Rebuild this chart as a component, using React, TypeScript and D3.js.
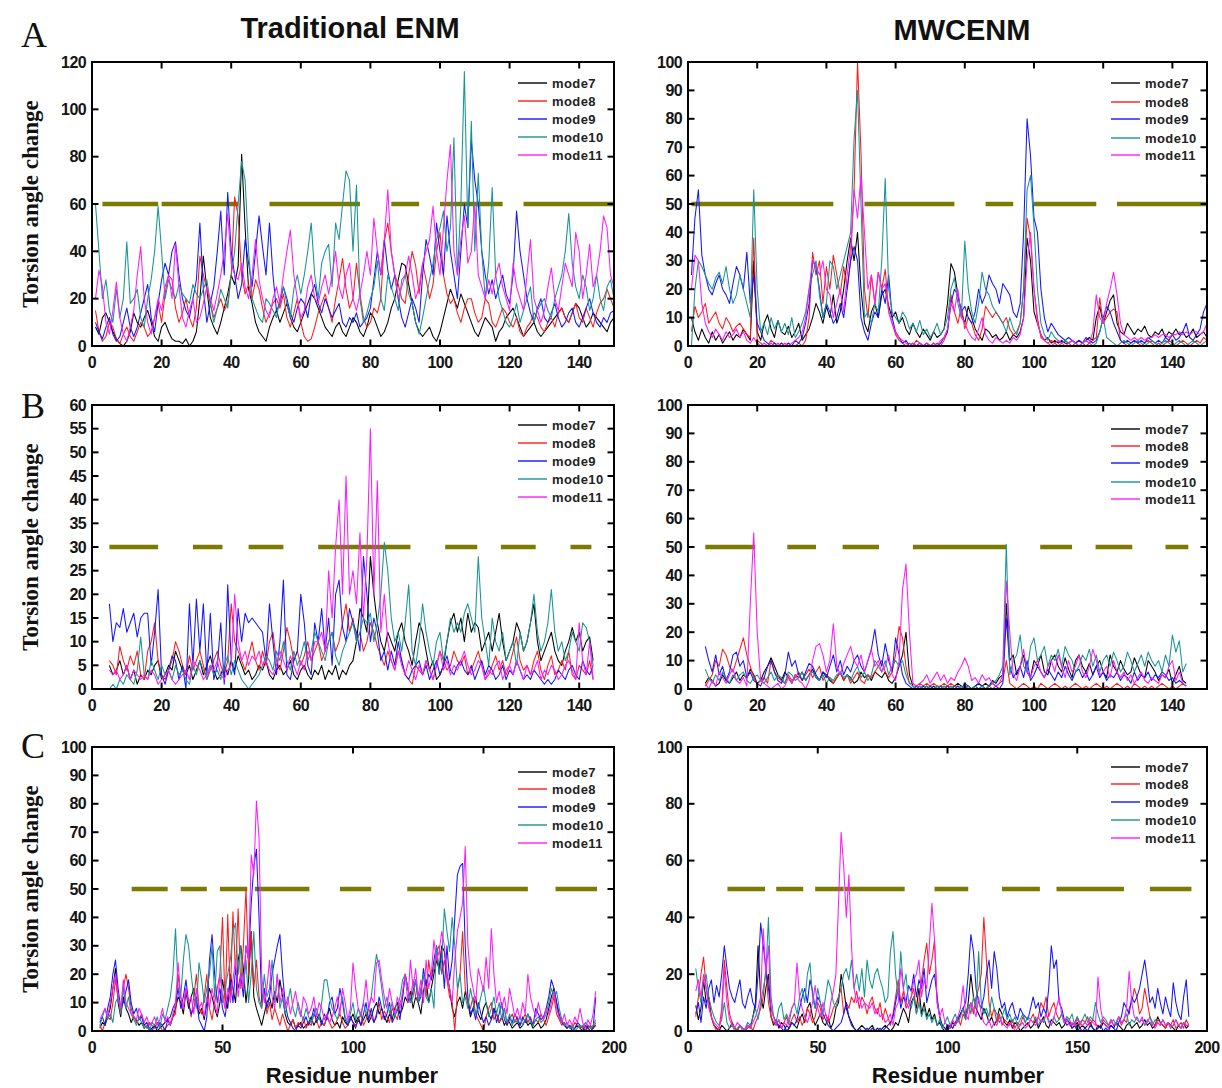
import React from "react";
import * as d3 from "d3";

const MODES = ["mode7", "mode8", "mode9", "mode10", "mode11"];
const COLORS = ["#000000", "#ff1a1a", "#1414ff", "#179494", "#ff1aff"];

const X_TICKS_150 = [0, 20, 40, 60, 80, 100, 120, 140];
const X_TICKS_200 = [0, 50, 100, 150, 200];
const Y_TICKS_A_L = [0, 20, 40, 60, 80, 100, 120];
const Y_TICKS_10 = [0, 10, 20, 30, 40, 50, 60, 70, 80, 90, 100];
const Y_TICKS_B_L = [0, 5, 10, 15, 20, 25, 30, 35, 40, 45, 50, 55, 60];
const Y_TICKS_20 = [0, 20, 40, 60, 80, 100];

// ---------- Panel A, Traditional ENM (residues 1..150) ----------
const A_L_START = 1;
const A_L_M7 = [8,5,12,14,10,6,3,1,0,2, 6,14,10,8,12,15,10,4,2,8, 10,6,3,2,2,1,3,0,2,6, 20,38,24,12,8,5,10,16,22,30, 26,34,81,50,24,18,10,6,4,2, 8,12,15,10,14,18,12,8,6,10, 14,18,22,20,16,12,8,6,4,8, 10,6,4,8,12,10,6,4,8,14, 12,8,4,6,10,16,20,28,35,34, 26,18,10,6,4,6,8,4,2,6, 12,18,24,20,16,22,18,14,10,6, 4,8,12,10,8,2,6,8,12,14, 16,12,8,4,6,8,10,6,4,6, 8,10,12,14,16,12,10,14,18,16, 12,8,10,14,12,10,8,6,10,12];
const A_L_M8 = [15,6,2,4,10,8,3,1,5,8, 4,2,6,10,8,4,6,12,18,10, 22,30,28,16,10,14,20,12,8,16, 38,30,24,18,12,16,20,15,18,30, 63,55,30,22,26,20,28,24,16,10, 14,18,20,16,22,12,8,14,20,10, 4,2,3,8,14,18,22,16,10,20, 28,37,24,16,20,35,22,12,8,10, 16,14,20,44,52,40,30,26,20,18, 30,40,34,22,35,28,20,26,40,48, 30,22,18,20,14,10,16,20,20,14, 10,12,20,18,10,8,12,16,14,10, 8,12,6,4,8,10,14,12,8,6, 10,12,8,14,16,12,10,14,18,12, 10,16,12,8,14,18,20,24,20,16];
const A_L_M9 = [10,6,3,8,12,5,2,4,10,16, 8,4,8,14,20,26,12,6,18,28, 35,30,40,44,30,20,15,12,20,28, 52,24,10,18,25,40,57,30,65,40, 30,20,26,45,35,25,40,55,42,30, 52,30,15,18,25,20,14,10,16,20, 18,12,22,26,18,14,20,16,12,15, 18,10,8,12,10,14,8,10,12,16, 28,40,30,45,32,24,30,20,12,8, 14,20,16,10,30,45,38,30,52,40, 30,55,40,30,20,40,60,50,87,70, 60,40,30,22,28,20,25,30,22,18, 30,57,40,30,20,14,10,16,20,12, 10,14,18,12,8,10,14,16,10,8, 12,16,20,14,10,8,12,10,14,15];
const A_L_M10 = [60,40,20,28,15,10,24,12,20,44, 18,20,24,12,8,20,28,40,59,40, 20,28,24,20,26,22,20,18,26,22, 20,24,28,18,10,16,24,20,16,30, 40,60,78,70,40,20,16,12,10,20, 18,15,12,20,25,18,12,24,30,22, 30,40,52,30,20,35,40,43,25,52, 45,60,74,70,40,68,20,10,14,20, 25,36,20,15,30,25,20,15,28,30, 22,18,10,5,12,20,28,35,45,50, 57,40,50,88,30,60,116,50,95,40, 73,40,20,35,67,30,20,15,10,8, 12,18,10,15,20,25,10,15,18,20, 15,12,20,25,30,40,56,35,25,20, 30,25,15,20,30,20,15,25,28,20];
const A_L_M11 = [20,32,25,10,5,15,27,12,5,2, 8,15,30,42,20,10,5,12,20,15, 25,30,20,43,25,12,8,15,20,10, 12,18,25,20,15,22,30,40,56,35, 30,28,35,25,20,30,45,28,20,15, 12,20,25,18,30,40,49,30,20,12, 15,25,30,20,18,25,30,22,30,40, 25,20,30,35,20,15,22,30,40,30, 54,40,30,45,66,40,30,20,25,30, 38,30,20,25,35,40,45,59,40,30, 50,70,85,40,30,45,55,35,40,60, 30,25,20,28,22,30,35,25,20,15, 35,25,20,15,30,45,20,15,10,15, 25,33,20,15,25,35,30,25,48,40, 20,30,43,25,30,40,55,50,30,25];
const A_L_SEGMENTS = [[3, 19], [20, 42], [51, 77], [86, 94], [100, 118], [124, 150]];

// ---------- Panel A, MWCENM (residues 1..150) ----------
const A_R_START = 1;
const A_R_M7 = [10,5,2,6,3,1,5,2,4,1, 3,5,2,4,3,6,4,2,30,5, 2,8,11,6,3,9,5,4,7,3, 5,8,2,4,6,10,15,12,8,14, 10,18,8,12,20,30,38,30,40,20, 8,5,12,15,10,18,20,14,10,12, 8,10,6,4,8,5,3,6,4,2, 5,3,4,6,15,29,26,18,12,8, 14,10,6,4,2,6,5,3,4,2, 3,5,2,4,3,5,10,38,30,12, 8,4,2,3,1,2,1,2,1,1, 2,1,2,1,2,3,2,10,14,8, 12,16,18,8,5,4,8,6,4,6, 5,7,4,3,5,4,6,3,5,4, 6,4,5,3,4,6,3,4,5,3];
const A_R_M8 = [5,14,10,12,15,8,10,12,8,6, 10,8,5,7,8,6,4,3,38,2, 1,0,0,2,1,0,1,0,1,0, 0,1,0,2,10,33,25,30,15,28, 20,32,25,18,28,20,30,55,100,68, 20,10,25,15,26,20,27,12,8,4, 2,1,0,1,0,2,1,0,1,0, 0,1,0,2,5,18,12,8,14,6, 10,8,4,2,6,14,12,10,12,10, 8,10,6,4,5,8,20,45,38,20, 10,3,2,1,2,1,0,1,2,1, 0,1,2,1,0,1,2,3,17,8, 10,12,13,12,2,1,0,1,2,1, 0,1,2,1,0,1,0,1,2,1, 0,1,2,1,0,1,2,1,3,2];
const A_R_M9 = [25,45,55,32,25,20,18,22,25,20, 18,15,22,28,25,20,33,15,25,8, 5,2,1,0,1,0,1,0,1,0, 2,1,3,8,15,30,28,20,10,15, 12,8,10,15,10,20,30,35,30,10, 5,2,8,12,10,20,15,25,10,5, 3,1,2,0,1,0,1,0,1,0, 1,0,1,3,5,15,20,18,12,14, 10,8,12,20,15,18,25,22,20,15, 22,20,18,12,10,15,40,80,67,45, 40,20,10,5,8,6,4,3,2,3, 2,1,2,1,3,2,1,2,5,10, 14,12,8,5,2,1,2,1,2,1, 2,1,3,2,1,2,1,3,2,4, 2,3,5,8,3,2,4,6,12,15];
const A_R_M10 = [0,20,30,28,25,22,20,24,26,22, 28,20,15,18,25,20,15,10,55,20, 5,8,4,10,6,9,5,8,4,10, 3,5,8,12,20,25,30,18,10,15, 30,28,20,25,30,35,40,73,90,50, 10,12,8,15,12,30,59,20,12,10, 8,12,10,6,8,5,9,4,6,3, 5,8,4,6,10,20,24,15,10,37, 20,12,8,15,26,20,18,14,12,10, 8,5,10,6,4,8,20,55,60,42, 20,8,4,2,5,3,2,1,2,1, 2,1,0,1,2,1,0,1,5,10, 3,2,1,0,1,2,1,0,1,2, 1,0,1,2,1,0,1,2,1,0, 1,2,1,0,1,2,1,0,1,2];
const A_R_M11 = [20,32,30,15,8,5,3,6,4,2, 5,3,4,6,3,5,2,1,3,1, 0,1,0,1,0,1,0,1,0,1, 2,3,5,10,20,30,28,25,30,20, 18,10,15,20,12,25,35,55,45,60, 40,20,25,15,26,20,22,12,8,5, 3,2,1,0,1,0,1,0,1,0, 1,0,2,3,6,15,12,20,10,8, 5,3,2,6,10,4,2,1,3,2, 1,2,1,3,2,4,10,30,40,20, 8,4,2,1,0,1,2,1,0,1, 2,1,0,1,2,1,5,18,10,8, 15,20,26,18,8,4,3,2,3,2, 3,2,3,3,4,3,4,4,3,4, 4,5,4,5,4,5,5,4,5,8];
const A_R_SEGMENTS = [[1, 42], [51, 77], [86, 94], [100, 118], [124, 150]];

// ---------- Panel B, Traditional ENM (residues 5..144) ----------
const B_L_START = 5;
const B_L_M7 = [5,3,4,6,3,5,2,4,1,3, 2,4,3,5,6,2,3,5,4,8, 6,4,3,5,2,4,6,3,5,7, 4,2,3,5,3,6,4,7,5,3, 4,2,3,5,4,6,3,2,4,5, 3,4,6,3,2,4,5,3,2,4, 3,5,2,4,3,5,2,4,3,5, 6,10,17,15,12,28,20,14,10,8, 12,10,8,12,14,10,8,5,10,14, 12,8,4,6,2,3,5,10,14,16, 12,15,10,16,12,14,13,8,10,12, 8,12,16,10,6,8,10,14,12,8, 10,14,18,10,6,8,10,12,8,6, 5,8,10,13,10,12,8,10,11,6];
const B_L_M8 = [6,5,3,9,6,4,7,5,8,3, 2,8,10,14,6,3,2,4,6,10, 8,5,3,7,4,6,8,5,2,4, 6,8,5,3,6,18,10,8,6,4, 7,10,6,4,8,5,10,12,6,4, 8,13,10,6,8,5,7,10,6,8, 10,6,8,10,12,8,10,14,18,12, 15,10,12,8,10,14,12,9,7,5, 8,6,4,8,6,3,2,1,5,4, 3,6,4,2,5,8,6,4,5,8, 6,5,7,3,4,6,8,5,2,3, 5,7,4,6,3,5,8,11,6,4, 5,3,6,8,4,2,5,7,3,4, 6,4,8,3,2,5,4,3,6,2];
const B_L_M9 = [18,10,14,13,17,12,14,16,11,15, 16,16,5,12,21,3,1,4,7,6, 2,5,0,18,5,19,8,18,3,16, 2,5,14,1,22,6,3,17,10,16, 14,15,14,13,12,6,18,10,3,10, 23,3,2,6,8,20,14,5,3,14, 10,17,8,15,5,20,23,13,10,17, 14,12,8,28,20,10,15,12,6,8, 4,8,5,10,6,3,2,4,5,6, 3,5,2,4,6,3,5,7,4,3, 5,6,4,3,5,2,4,6,3,5, 4,2,3,5,2,4,3,6,4,2, 3,2,4,3,2,1,2,1,2,4, 3,2,4,5,3,2,6,4,3,5];
const B_L_M10 = [0,1,0,2,1,3,2,1,4,11, 3,2,6,4,2,5,3,4,2,5, 3,4,2,1,5,3,6,4,2,5, 3,4,2,5,7,3,6,4,2,1, 0,1,2,3,5,7,6,4,8,6, 10,6,4,8,5,7,10,6,8,12, 10,8,6,10,12,7,5,8,10,12, 14,10,12,15,14,16,10,14,20,31, 25,15,10,12,8,14,22,8,5,10, 18,12,8,5,10,12,6,10,15,12, 14,12,16,18,15,12,28,15,10,5, 15,10,8,12,6,8,10,5,12,8, 10,14,20,12,8,10,14,21,12,8, 10,6,8,12,10,8,14,13,10,5];
const B_L_M11 = [4,3,4,2,3,5,2,4,3,2, 3,2,4,3,1,2,3,4,2,1, 2,3,4,2,6,5,4,2,3,5, 4,6,3,2,4,5,20,10,6,8, 5,7,6,8,5,6,4,3,5,8, 6,4,7,5,3,6,4,8,6,10, 10,12,8,25,15,30,40,20,45,20, 25,18,33,15,28,55,20,44,12,20, 10,6,4,8,5,3,6,4,2,5, 3,6,4,2,5,8,4,6,3,5, 4,6,8,5,3,4,6,5,2,4, 3,5,6,2,4,5,3,6,4,2, 5,3,4,6,2,4,3,5,4,2, 3,5,6,4,2,14,6,3,10,2];
const B_L_SEGMENTS = [[5, 19], [29, 37.5], [45, 55], [65, 91.5], [101.5, 110.7], [117.5, 127.5], [137.5, 143.5]];

// ---------- Panel B, MWCENM (residues 5..144) ----------
const B_R_START = 5;
const B_R_M7 = [2,4,3,1,2,5,3,2,4,6, 3,5,4,7,5,2,3,6,8,11, 8,5,3,6,4,2,5,4,6,3, 5,7,4,3,6,5,3,2,4,6, 3,5,4,2,3,6,4,5,3,6, 5,4,6,3,2,4,8,12,20,5, 1,0,1,0,1,0,1,0,1,0, 1,0,1,2,1,0,1,0,1,2, 1,2,1,3,2,4,5,30,10,12, 5,8,12,6,4,10,8,12,6,5, 10,12,8,6,11,7,4,10,12,8, 6,9,5,8,10,6,4,12,8,6, 10,7,5,6,11,8,5,4,10,8, 6,3,5,4,7,2,5,8,3,2];
const B_R_M8 = [1,3,5,10,8,14,12,8,6,10, 14,18,12,8,4,2,3,4,2,10, 6,4,3,2,5,3,4,6,3,5, 7,4,6,8,3,5,4,2,4,6, 3,5,2,4,6,3,2,5,4,6, 8,10,6,4,6,12,22,18,8,2, 2,1,2,1,2,1,2,1,1,2, 1,2,1,1,0,1,1,0,1,0, 1,0,1,0,1,2,3,10,2,1, 0,1,2,1,0,1,0,2,1,0, 1,2,1,0,1,0,1,2,1,0, 1,0,1,2,1,0,1,0,1,2, 1,0,1,0,2,1,0,1,0,1, 0,1,2,1,0,1,0,1,2,1];
const B_R_M9 = [15,10,6,12,5,8,3,6,12,13, 8,10,4,6,3,2,1,4,8,10, 6,3,2,5,13,8,10,5,3,6, 9,8,5,3,6,4,8,12,6,10, 5,8,6,10,12,8,6,10,14,21, 12,8,16,10,6,18,12,5,2,1, 0,1,0,1,0,1,0,1,0,1, 0,1,0,1,0,2,1,0,1,2, 1,0,1,2,1,0,2,25,8,4, 6,8,4,10,3,5,8,6,4,7, 5,3,6,4,8,5,3,6,7,4, 6,3,5,8,4,6,3,5,4,6, 3,5,4,2,6,3,5,4,6,3, 5,4,6,5,3,4,2,3,2,1];
const B_R_M10 = [7,4,2,5,3,6,4,2,5,3, 5,6,3,2,4,5,3,2,4,6, 3,5,4,2,6,5,3,4,6,3, 5,6,4,3,5,2,4,3,5,6, 4,5,3,6,8,4,6,3,5,10, 8,6,10,5,8,10,8,10,5,2, 1,0,1,0,1,0,0,1,0,1, 0,1,0,0,1,0,1,0,1,0, 1,0,1,2,3,5,8,51,5,10, 12,19,8,6,15,18,10,12,15,8, 12,10,14,8,15,12,10,6,8,12, 10,14,8,12,6,10,12,8,13,10, 6,8,13,10,6,9,12,8,13,10, 8,10,6,12,8,19,13,17,6,9];
const B_R_M11 = [2,0,3,1,6,4,2,5,7,3, 2,4,1,30,55,20,3,2,1,0, 1,2,0,1,4,2,5,3,2,0, 3,10,15,16,12,6,10,23,8,5, 9,12,15,10,8,12,6,10,14,8, 10,6,8,12,5,3,10,35,44,20, 2,1,2,3,5,2,4,6,3,5, 2,4,3,6,8,11,8,3,4,2, 5,3,4,2,1,2,5,38,20,5, 3,8,14,6,4,8,10,6,4,8, 10,6,12,8,4,10,6,8,12,6, 4,8,14,10,5,6,8,4,10,6, 4,6,3,5,2,4,6,3,2,4, 3,2,5,4,8,10,3,6,2,1];
const B_R_SEGMENTS = [[5, 19.4], [28.7, 37], [44.7, 55.2], [65, 92], [101.8, 111], [117.8, 128.4], [138, 144.6]];

// ---------- Panel C, Traditional ENM (residues 3..193) ----------
const C_L_START = 3;
const C_L_M7 = [1,3,2,5,8,15,22,10,5,12, 8,6,3,5,4,2,3,1,2,0, 1,2,0,1,2,3,4,2,5,8, 12,10,6,14,8,12,15,10,6,8, 4,10,15,12,8,5,10,18,12,8, 20,15,10,25,30,22,10,18,35,12, 8,5,2,6,10,12,8,14,10,18, 12,6,3,2,4,1,2,3,1,2, 3,5,2,4,6,3,2,5,8,4, 2,3,1,5,3,2,4,6,3,5, 2,4,6,3,5,8,10,6,8,5, 3,6,4,8,10,6,8,12,10,14, 8,12,10,6,14,18,10,15,20,25, 22,30,28,20,15,8,5,10,12,8, 14,10,5,8,12,6,4,8,10,6, 4,8,6,3,5,2,4,3,1,2, 3,1,2,4,2,3,1,2,3,1, 2,4,8,12,15,10,5,3,2,1, 2,0,1,2,1,0,2,1,0,1, 2];
const C_L_M8 = [2,0,3,5,4,10,18,12,6,15, 20,15,8,5,3,4,6,2,1,3, 2,1,3,2,0,1,2,3,5,6, 20,12,8,15,10,5,12,20,8,6, 12,20,8,4,10,15,20,40,8,41, 12,42,20,43,15,30,50,20,35,15, 25,12,8,15,6,10,4,8,5,2, 6,3,0,2,4,1,3,2,5,1, 3,2,6,4,1,3,2,5,3,1, 2,4,6,3,1,2,5,3,2,4, 6,2,4,8,5,3,6,10,4,7, 5,3,8,6,4,10,12,20,15,10, 18,12,10,15,20,12,25,18,22,28, 30,20,25,18,12,10,0,14,20,35, 15,10,8,12,6,4,2,0,5,8, 10,4,6,3,5,8,2,4,6,3, 5,2,4,6,3,5,2,4,3,6, 4,2,5,8,12,6,4,2,3,1, 2,1,3,2,1,2,0,1,2,1, 3];
const C_L_M9 = [3,5,2,8,12,20,25,15,8,10, 14,18,10,6,8,4,5,2,3,1, 0,2,1,3,2,0,4,5,8,10, 15,8,12,18,10,6,8,12,4,2, 0,5,25,34,20,10,15,8,5,12, 18,10,22,15,20,12,30,25,45,58, 64,40,10,15,8,12,20,25,30,34, 20,10,5,3,1,0,2,1,3,5, 2,4,8,3,5,2,6,4,10,12, 6,8,15,10,4,2,5,3,1,4, 2,6,10,4,8,3,5,12,8,4, 6,10,3,5,8,4,12,20,15,10, 14,18,10,12,22,16,20,18,25,30, 20,28,15,30,18,25,40,55,58,59, 30,12,6,8,4,10,6,3,5,2, 4,8,3,6,10,4,2,5,3,6, 4,2,5,3,6,4,2,8,6,4, 5,8,12,18,15,10,6,3,2,1, 2,0,1,3,2,1,0,2,1,1, 12];
const C_L_M10 = [2,5,8,4,6,3,10,12,6,15, 8,12,6,4,2,5,3,1,2,0, 3,2,5,1,6,4,8,12,20,36, 15,12,25,34,30,20,12,8,24,18, 10,15,20,30,12,28,30,10,15,20, 25,35,38,20,30,15,25,10,20,35, 15,10,8,20,12,15,25,10,20,8, 12,6,10,15,8,5,10,6,4,8, 5,3,6,8,4,10,18,18,12,8, 6,4,8,12,5,3,6,10,4,8, 5,10,6,8,12,20,27,22,15,8, 12,6,10,5,8,12,18,20,15,10, 12,18,10,14,20,12,10,15,8,30, 20,25,43,35,28,40,30,15,20,10, 12,8,15,10,6,8,12,16,10,5, 8,12,6,10,4,8,3,6,2,4, 3,5,2,4,6,3,2,4,5,3, 4,6,10,15,12,14,8,4,2,3, 1,2,0,1,2,1,3,2,1,2, 4];
const C_L_M11 = [4,6,8,5,10,15,20,12,8,18, 10,8,6,5,4,8,6,3,5,2, 3,5,2,4,8,3,5,2,6,10, 24,12,8,15,10,12,6,15,8,10, 5,12,8,15,10,6,20,12,8,15, 10,18,25,12,20,15,30,25,62,55, 81,68,20,10,15,25,12,8,20,10, 15,8,12,6,10,14,8,5,12,10, 6,8,12,5,10,8,4,6,3,5, 8,12,6,15,10,4,8,24,15,8, 6,10,18,8,12,10,24,25,18,12, 8,15,10,6,12,8,14,20,10,25, 15,22,12,18,10,25,15,20,32,25, 28,35,30,20,15,10,25,35,40,45, 65,30,20,15,10,22,18,14,26,15, 36,20,10,14,8,12,6,15,10,5, 8,4,10,6,20,12,8,5,10,6, 4,8,6,10,14,8,5,3,6,2, 4,2,5,3,8,3,1,4,2,6, 14];
const C_L_SEGMENTS = [[15.2, 29], [34, 44], [49, 59.5], [62.4, 83.3], [95, 107], [120.8, 135], [141.7, 167], [177.6, 193.5]];

// ---------- Panel C, MWCENM (residues 3..193) ----------
const C_R_START = 3;
const C_R_M7 = [9,4,8,18,10,12,5,2,1,0, 2,1,0,1,3,1,0,2,1,0, 2,1,5,10,30,12,8,15,20,5, 2,4,1,3,2,0,1,3,2,1, 4,6,3,8,10,5,2,4,6,3, 2,5,1,3,8,10,20,15,8,5, 3,1,0,1,2,1,0,1,2,0, 1,0,1,2,1,0,1,3,2,5, 8,6,3,10,12,8,15,6,10,5, 8,4,6,2,3,1,0,2,1,3, 2,4,6,8,5,10,20,12,8,6, 4,8,6,3,5,2,4,8,6,3, 2,4,1,3,2,0,1,2,3,1, 2,4,1,3,5,2,1,4,3,2, 3,1,2,4,3,1,2,3,1,2, 1,2,3,1,0,2,1,3,2,1, 2,1,3,2,1,0,2,3,1,2, 3,1,2,4,2,3,1,2,5,3, 2,1,3,2,1,0,2,1,3,1, 2];
const C_R_M8 = [5,12,20,26,15,10,5,2,0,1, 8,25,15,6,3,1,0,2,1,0, 1,2,0,3,5,8,12,22,10,5, 3,2,4,1,3,5,2,4,6,3, 5,2,4,8,6,3,5,10,8,4, 6,3,5,8,10,12,15,6,10,8, 12,10,14,8,12,10,6,10,12,8, 6,10,4,8,5,2,6,12,18,10, 14,8,10,12,15,6,10,18,25,31, 20,25,32,10,5,2,1,0,2,1, 3,5,2,6,4,8,10,6,12,15, 20,40,25,10,5,8,3,6,2,4, 3,2,4,1,3,2,5,3,2,4, 6,3,5,10,8,12,5,8,10,6, 4,6,3,5,4,2,3,5,2,4, 3,5,2,4,3,1,2,4,3,2, 4,2,3,5,2,4,3,8,10,15, 12,6,8,15,10,5,3,2,4,3, 2,1,3,2,4,1,2,3,1,4, 2];
const C_R_M9 = [6,10,3,12,8,15,18,10,16,12, 20,30,22,15,12,10,14,18,10,8, 12,15,10,8,20,38,30,22,15,8, 5,3,2,1,0,2,1,3,2,4, 8,12,15,10,18,14,8,12,10,6, 4,2,1,0,1,2,3,6,10,5, 2,1,0,1,0,0,1,0,1,0, 0,1,0,1,2,3,5,10,15,8, 12,10,16,14,20,12,18,15,22,10, 14,18,20,12,5,2,1,0,2,1, 3,4,6,8,10,20,34,28,15,10, 8,12,20,25,15,28,22,12,8,10, 5,8,10,6,4,8,6,5,4,8, 12,8,10,5,8,6,15,30,22,25, 10,8,4,2,3,1,2,0,1,0, 1,0,2,1,0,1,2,0,1,0, 2,1,0,3,5,10,8,6,12,10, 12,15,20,25,18,10,12,8,15,10, 6,12,8,5,17,10,6,4,12,18, 5];
const C_R_M10 = [22,15,10,18,20,12,8,5,3,2, 4,10,3,1,2,0,1,2,0,1, 3,2,5,8,4,10,15,20,40,12, 5,3,8,10,4,6,3,8,10,6, 12,15,10,20,24,12,8,15,10,6, 12,18,15,10,8,12,15,20,22,18, 25,15,20,14,22,12,25,18,15,20, 22,18,15,10,12,28,35,20,12,28, 15,20,10,8,12,6,10,5,8,4, 6,3,5,2,4,1,3,5,2,4, 6,3,5,8,4,10,6,12,8,28, 10,6,8,5,12,8,6,3,5,8, 4,6,3,5,2,4,6,3,5,4, 3,5,2,4,3,6,4,2,5,3, 4,6,3,5,4,6,2,5,3,4, 6,3,5,4,10,6,3,5,4,2, 3,4,2,5,3,4,6,2,4,3, 5,3,4,2,3,5,2,4,3,2, 4,2,3,1,2,4,2,1,3,2, 2];
const C_R_M11 = [14,18,12,20,15,8,5,3,2,1, 5,22,10,4,2,1,3,2,1,0, 2,1,3,5,8,12,36,20,30,8, 5,2,4,1,3,2,5,8,10,24, 12,8,5,3,6,10,16,8,5,10, 6,4,10,14,20,45,70,58,40,55, 30,15,10,12,8,10,9,8,10,6, 8,5,6,3,4,6,2,8,10,22, 15,10,8,12,18,20,25,12,18,15, 30,45,32,10,5,8,3,2,1,4, 2,5,8,16,6,4,10,8,5,12, 6,3,2,4,1,3,2,5,3,2, 1,3,2,0,1,2,3,1,2,4, 3,2,5,3,4,6,3,2,5,8, 12,6,3,4,2,3,2,4,3,2, 3,2,4,3,2,19,8,3,2,1, 4,2,3,5,3,4,8,21,10,5, 4,3,5,2,4,3,2,1,3,2, 4,2,3,1,2,4,2,1,3,2, 2];
const C_R_SEGMENTS = [[15.2, 29.7], [34, 44.4], [49, 60], [60.5, 83.5], [95, 108], [121, 135.6], [142, 168], [178, 194]];

type Box = { left: number; right: number; top: number; bottom: number };

function Panel(props: {
  box: Box;
  xMax: number;
  yMax: number;
  xTicks: number[];
  yTicks: number[];
  start: number;
  series: number[][];
  threshold: number;
  segments: number[][];
  legendY: number[];
  id: string;
}) {
  const { box, xMax, yMax, xTicks, yTicks, start, series, threshold, segments, legendY, id } = props;
  const x = d3.scaleLinear().domain([0, xMax]).range([box.left, box.right]);
  const y = d3.scaleLinear().domain([0, yMax]).range([box.bottom, box.top]);
  const line = d3
    .line<number>()
    .x((_, i) => x(start + i))
    .y((d) => y(d));
  const tl = 6.5;
  const font = "'Liberation Sans', Arial, Helvetica, sans-serif";
  return (
    <g>
      <defs>
        <clipPath id={"clip-" + id}>
          <rect x={box.left} y={box.top} width={box.right - box.left} height={box.bottom - box.top} />
        </clipPath>
      </defs>
      <g clipPath={`url(#clip-${id})`}>
        {segments.map((s, i) => (
          <line key={"seg" + i} x1={x(s[0])} x2={x(s[1])} y1={y(threshold)} y2={y(threshold)} stroke="#7c7a00" strokeWidth={4.5} />
        ))}
        {series.map((s, i) => (
          <path key={"s" + i} d={line(s) || ""} fill="none" stroke={COLORS[i]} strokeWidth={1.05} strokeLinejoin="round" />
        ))}
      </g>
      <rect x={box.left} y={box.top} width={box.right - box.left} height={box.bottom - box.top} fill="none" stroke="#000" strokeWidth={2} />
      {xTicks.map((t) => (
        <g key={"xt" + t}>
          {t > 0 && t < xMax && (
            <>
              <line x1={x(t)} x2={x(t)} y1={box.bottom} y2={box.bottom - tl} stroke="#000" strokeWidth={2} />
              <line x1={x(t)} x2={x(t)} y1={box.top} y2={box.top + tl} stroke="#000" strokeWidth={2} />
            </>
          )}
          <text x={x(t)} y={box.bottom + 21.5} textAnchor="middle" fontFamily={font} fontWeight="bold" fontSize={16} letterSpacing={-0.6} fill="#141414">
            {t}
          </text>
        </g>
      ))}
      {yTicks.map((t) => (
        <g key={"yt" + t}>
          {t > 0 && t < yMax && (
            <>
              <line x1={box.left} x2={box.left + tl} y1={y(t)} y2={y(t)} stroke="#000" strokeWidth={2} />
              <line x1={box.right} x2={box.right - tl} y1={y(t)} y2={y(t)} stroke="#000" strokeWidth={2} />
            </>
          )}
          <text x={box.left - 6} y={y(t) + 5.5} textAnchor="end" fontFamily={font} fontWeight="bold" fontSize={16} letterSpacing={-0.6} fill="#141414">
            {t}
          </text>
        </g>
      ))}
      {MODES.map((m, i) => (
        <g key={"lg" + m}>
          <line x1={box.right - 96} x2={box.right - 67} y1={legendY[i]} y2={legendY[i]} stroke={COLORS[i]} strokeWidth={1.4} />
          <text x={box.right - 62} y={legendY[i] + 4.5} fontFamily={font} fontWeight="bold" fontSize={13} letterSpacing={0.4} fill="#222">
            {m}
          </text>
        </g>
      ))}
    </g>
  );
}

export default function App() {
  const serif = "'Liberation Serif', 'Times New Roman', serif";
  const sans = "'Liberation Sans', Arial, Helvetica, sans-serif";
  const L = { left: 92, right: 614 };
  const R = { left: 688, right: 1207 };
  const rowA = { top: 62, bottom: 346 };
  const rowB = { top: 405, bottom: 689 };
  const rowC = { top: 747, bottom: 1031 };
  return (
    <svg width={1222} height={1088} style={{ position: "absolute", left: 0, top: 0, background: "#fff" }}>
      <rect x={0} y={0} width={1222} height={1088} fill="#fff" />
      <text x={350} y={38} textAnchor="middle" fontFamily={sans} fontWeight="bold" fontSize={29} fill="#111">
        Traditional ENM
      </text>
      <text x={962} y={40} textAnchor="middle" fontFamily={sans} fontWeight="bold" fontSize={29} fill="#111">
        MWCENM
      </text>
      <text x={21} y={47} fontFamily={serif} fontSize={36} fill="#111">A</text>
      <text x={21} y={418} fontFamily={serif} fontSize={36} fill="#111">B</text>
      <text x={21} y={758} fontFamily={serif} fontSize={36} fill="#111">C</text>
      {[rowA, rowB, rowC].map((r, i) => (
        <text
          key={"yl" + i}
          transform={`translate(38,${(r.top + r.bottom) / 2}) rotate(-90)`}
          textAnchor="middle"
          fontFamily={serif}
          fontWeight="bold"
          fontSize={23}
          fill="#111"
        >
          Torsion angle change
        </text>
      ))}
      <text x={352} y={1083} textAnchor="middle" fontFamily={sans} fontWeight="bold" fontSize={22} fill="#111">
        Residue number
      </text>
      <text x={958} y={1083} textAnchor="middle" fontFamily={sans} fontWeight="bold" fontSize={22} fill="#111">
        Residue number
      </text>

      <Panel id="al" box={{ ...L, ...rowA }} xMax={150} yMax={120} xTicks={X_TICKS_150} yTicks={Y_TICKS_A_L} start={A_L_START}
        series={[A_L_M7, A_L_M8, A_L_M9, A_L_M10, A_L_M11]} threshold={60} segments={A_L_SEGMENTS} legendY={[83, 101, 119, 137, 155]} />
      <Panel id="ar" box={{ ...R, ...rowA }} xMax={150} yMax={100} xTicks={X_TICKS_150} yTicks={Y_TICKS_10} start={A_R_START}
        series={[A_R_M7, A_R_M8, A_R_M9, A_R_M10, A_R_M11]} threshold={50} segments={A_R_SEGMENTS} legendY={[83, 102, 119, 138, 155]} />
      <Panel id="bl" box={{ ...L, ...rowB }} xMax={150} yMax={60} xTicks={X_TICKS_150} yTicks={Y_TICKS_B_L} start={B_L_START}
        series={[B_L_M7, B_L_M8, B_L_M9, B_L_M10, B_L_M11]} threshold={30} segments={B_L_SEGMENTS} legendY={[425, 443, 461, 479, 497]} />
      <Panel id="br" box={{ ...R, ...rowB }} xMax={150} yMax={100} xTicks={X_TICKS_150} yTicks={Y_TICKS_10} start={B_R_START}
        series={[B_R_M7, B_R_M8, B_R_M9, B_R_M10, B_R_M11]} threshold={50} segments={B_R_SEGMENTS} legendY={[429, 446, 463, 482, 499]} />
      <Panel id="cl" box={{ ...L, ...rowC }} xMax={200} yMax={100} xTicks={X_TICKS_200} yTicks={Y_TICKS_10} start={C_L_START}
        series={[C_L_M7, C_L_M8, C_L_M9, C_L_M10, C_L_M11]} threshold={50} segments={C_L_SEGMENTS} legendY={[772, 789, 807, 825, 843]} />
      <Panel id="cr" box={{ ...R, ...rowC }} xMax={200} yMax={100} xTicks={X_TICKS_200} yTicks={Y_TICKS_20} start={C_R_START}
        series={[C_R_M7, C_R_M8, C_R_M9, C_R_M10, C_R_M11]} threshold={50} segments={C_R_SEGMENTS} legendY={[767, 784, 802, 820, 838]} />
    </svg>
  );
}
